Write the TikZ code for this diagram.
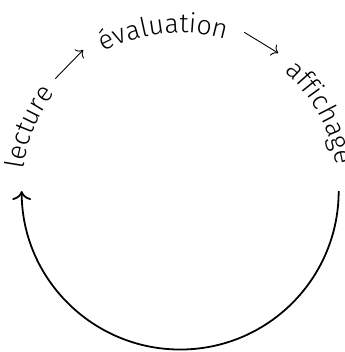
\documentclass[tikz,border=0pt]{standalone}
\usepackage{fontspec}
\setmainfont{Fira Sans Light}
\usetikzlibrary{decorations.text, arrows.meta}
\tikzset{
    cycletext/.style={
        decorate,
        decoration={
            text along path,
            text align=center,
            text={|\large|#1}
        }
    },
    pas/.style={
        ->,
        >={To[scale=1.1]},
        thin
    },
    retour/.style={
        ->,
        >={To[scale=1.2]},
        thick
    }
}
\newcommand{\rayon}{2.5}

\begin{document}
\begin{tikzpicture}
        \useasboundingbox (-2.842,-2.539) rectangle (2.599,3.013);

        % Words written along the upper half
        \path[cycletext={lecture}]
            (187:\rayon) arc[start angle=187, end angle=127, radius=\rayon];
        \path[cycletext={évaluation}]
            (126:\rayon) arc[start angle=126, end angle=66, radius=\rayon];
        \path[cycletext={affichage}]
            (59:\rayon) arc[start angle=59, end angle=-1, radius=\rayon];

        % Arrows between the words
        \coordinate (lecture-fin) at (138:2.65);
        \coordinate (evaluation-debut) at (124.5:2.70);
        \coordinate (evaluation-fin) at (68:2.70);
        \coordinate (affichage-debut) at (54.6:2.67);
        \draw[pas] (lecture-fin) -- (evaluation-debut);
        \draw[pas] (evaluation-fin) -- (affichage-debut);

        % Return arrow under the circle
        \coordinate (debut) at (180:\rayon);
        \coordinate (fin) at (0:\rayon);
        \draw[retour] (fin) arc[start angle=0, end angle=-180, radius=\rayon];
    \end{tikzpicture}
\end{document}
